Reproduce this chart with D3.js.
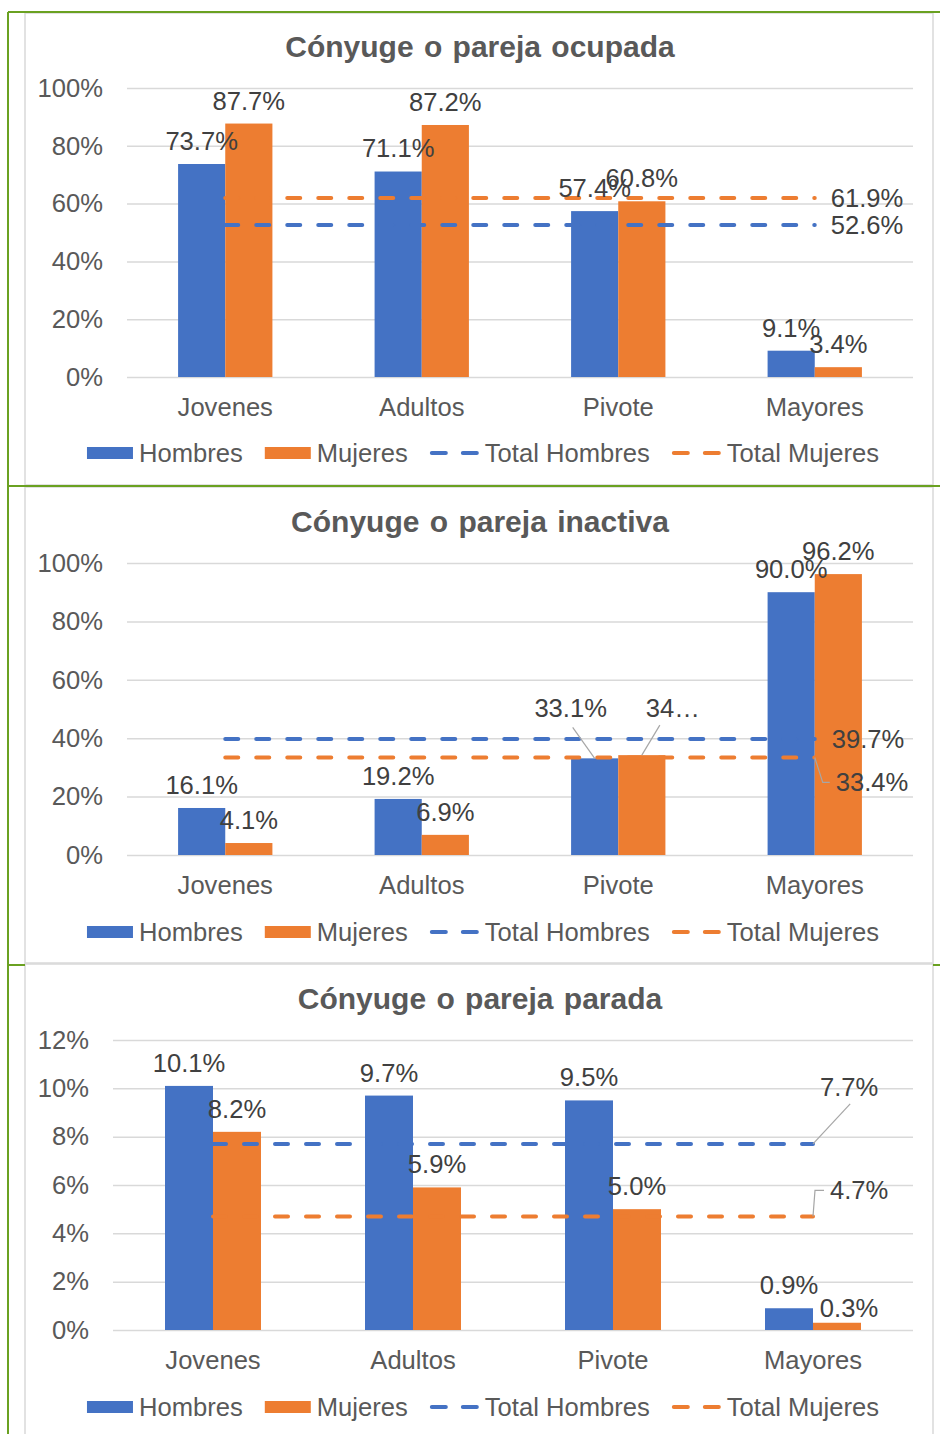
<!DOCTYPE html>
<html>
<head>
<meta charset="utf-8">
<script src="https://cdn.jsdelivr.net/npm/d3@7/dist/d3.min.js"></script>
<style>
  body { margin: 0; background: #fff; }
  svg { display: block; font-family: "Liberation Sans", Arial, sans-serif; }
</style>
</head>
<body>
<div id="chart"></div>
<script>
// categorias y series
var categorias = ["Jovenes", "Adultos", "Pivote", "Mayores"];
var series = ["Hombres", "Mujeres", "Total Hombres", "Total Mujeres"];

var ocupadaHombres = [73.7, 71.1, 57.4, 9.1];
var ocupadaMujeres = [87.7, 87.2, 60.8, 3.4];
var ocupadaTotalHombres = 52.6;
var ocupadaTotalMujeres = 61.9;

var inactivaHombres = [16.1, 19.2, 33.1, 90.0];
var inactivaMujeres = [4.1, 6.9, 34.2, 96.2];
var inactivaTotalHombres = 39.7;
var inactivaTotalMujeres = 33.4;

var paradaHombres = [10.1, 9.7, 9.5, 0.9];
var paradaMujeres = [8.2, 5.9, 5.0, 0.3];
var paradaTotalHombres = 7.7;
var paradaTotalMujeres = 4.7;

var ticks100 = [0, 20, 40, 60, 80, 100];
var ticks12 = [0, 2, 4, 6, 8, 10, 12];

var azul = "#4472C4", naranja = "#ED7D31";
var W = 940, H = 1434;
var fs = '25.6px';

var svg = d3.select('#chart').append('svg')
    .attr('width', W)
    .attr('height', H);

// marcos verdes y cajas grises
var marcos = svg.append('g');
[[13, 485], [487, 963], [964, 1440]].forEach(function(p) {
  marcos.append('rect')
    .attr('x', 25).attr('y', p[0])
    .attr('width', 908).attr('height', p[1] - p[0])
    .attr('fill', 'none')
    .attr('stroke', '#d9d9d9')
    .attr('stroke-width', 1.5);
});
var verde = '#6aa121';
[[8, 12, 8, H], [8, 12, 940, 12], [8, 486, 940, 486], [8, 965, 25, 965], [933, 965, 940, 965]]
  .forEach(function(l) {
    marcos.append('line')
      .attr('x1', l[0]).attr('y1', l[1]).attr('x2', l[2]).attr('y2', l[3])
      .attr('stroke', verde).attr('stroke-width', 2);
  });

var paneles = [
  { titulo: "Cónyuge o pareja ocupada", hombres: ocupadaHombres, mujeres: ocupadaMujeres,
    totalH: ocupadaTotalHombres, totalM: ocupadaTotalMujeres, ticks: ticks100,
    tituloY: 46, left: 127, top: 88, bottom: 377, legendY: 453,
    ajustes: {},
    totH: { dx: 16, dy: 0 }, totM: { dx: 16, dy: 0 } },
  { titulo: "Cónyuge o pareja inactiva", hombres: inactivaHombres, mujeres: inactivaMujeres,
    totalH: inactivaTotalHombres, totalM: inactivaTotalMujeres, ticks: ticks100,
    tituloY: 521, left: 127, top: 563, bottom: 855, legendY: 932,
    ajustes: {
      "H2": { dx: -24, dy: -27, guia: [2, 19] },
      "M2": { dx: 31, dy: -24, texto: "34…", guia: [-13, 17] }
    },
    totH: { dx: 17, dy: 0 }, totM: { dx: 21, dy: 25, codo: true } },
  { titulo: "Cónyuge o pareja parada", hombres: paradaHombres, mujeres: paradaMujeres,
    totalH: paradaTotalHombres, totalM: paradaTotalMujeres, ticks: ticks12,
    tituloY: 998, left: 113, top: 1040, bottom: 1330, legendY: 1407,
    ajustes: { "M3": { dx: 12, dy: 8 } },
    totH: { dx: 7, dy: -57, guiaRecta: true }, totM: { dx: 17, dy: -26, codo: true } }
];

function fmt(v) { return v.toFixed(1) + "%"; }

paneles.forEach(function(p) {
  var right = 913;
  var g = svg.append('g');

  // titulo
  g.append('text')
    .attr('x', 480).attr('y', p.tituloY)
    .attr('dy', '0.35em')
    .attr('text-anchor', 'middle')
    .style('font-size', '30px')
    .style('font-weight', 'bold')
    .style('word-spacing', '2px')
    .attr('fill', '#595959')
    .text(p.titulo);

  var x0 = d3.scaleBand()
    .domain(categorias)
    .range([p.left, right])
    .paddingInner(0.52)
    .paddingOuter(0.26);
  var x1 = d3.scaleBand()
    .domain(["Hombres", "Mujeres"])
    .range([0, x0.bandwidth()]);
  var y = d3.scaleLinear()
    .domain([0, d3.max(p.ticks)])
    .range([p.bottom, p.top]);

  // eje y con rejilla
  var ejeY = g.append('g')
    .attr('transform', 'translate(' + p.left + ',0)')
    .call(d3.axisLeft(y).tickValues(p.ticks).tickSize(-(right - p.left)).tickPadding(24)
      .tickFormat(function(d) { return d + "%"; }));
  ejeY.select('.domain').remove();
  ejeY.selectAll('line').attr('stroke', '#d9d9d9').attr('stroke-width', 1.5);
  ejeY.selectAll('text')
    .attr('fill', '#595959')
    .style('font-size', fs)
    .style('font-family', '"Liberation Sans", Arial, sans-serif');

  // eje x
  var ejeX = g.append('g')
    .attr('transform', 'translate(0,' + p.bottom + ')')
    .call(d3.axisBottom(x0).tickSize(0));
  ejeX.select('.domain').remove();
  ejeX.selectAll('text')
    .attr('y', 30).attr('dy', '0.35em')
    .attr('fill', '#595959')
    .style('font-size', fs)
    .style('font-family', '"Liberation Sans", Arial, sans-serif');

  // barras
  var filas = [];
  categorias.forEach(function(c, i) {
    filas.push({ cat: c, serie: "Hombres", v: p.hombres[i], key: "H" + i });
    filas.push({ cat: c, serie: "Mujeres", v: p.mujeres[i], key: "M" + i });
  });

  g.selectAll('.bar')
    .data(filas)
    .enter().append('rect')
      .attr('class', 'bar')
      .attr('x', function(d) { return x0(d.cat) + x1(d.serie); })
      .attr('width', x1.bandwidth())
      .attr('y', function(d) { return y(d.v); })
      .attr('height', function(d) { return p.bottom - y(d.v); })
      .attr('fill', function(d) { return d.serie == "Hombres" ? azul : naranja; });

  // lineas de total
  var cx = function(c) { return x0(c) + x0.bandwidth() / 2; };
  var linea = d3.line()
    .x(function(d) { return cx(d.cat); })
    .y(function(d) { return y(d.v); });
  [[p.totalH, azul], [p.totalM, naranja]].forEach(function(t) {
    g.append('path')
      .datum(categorias.map(function(c) { return { cat: c, v: t[0] }; }))
      .attr('d', linea)
      .attr('fill', 'none')
      .attr('stroke', t[1])
      .attr('stroke-width', 4)
      .attr('stroke-dasharray', '13 18')
      .attr('stroke-linecap', 'round');
  });

  // etiquetas de barras
  filas.forEach(function(d) {
    var aj = p.ajustes[d.key] || {};
    var bx = x0(d.cat) + x1(d.serie) + x1.bandwidth() / 2;
    var by = y(d.v);
    var lx = bx + (aj.dx || 0);
    var ly = by - 23 + (aj.dy || 0);
    if (aj.guia) {
      g.append('line')
        .attr('x1', bx).attr('y1', by)
        .attr('x2', lx + aj.guia[0]).attr('y2', ly + aj.guia[1])
        .attr('stroke', '#a6a6a6').attr('stroke-width', 1.2);
    }
    g.append('text')
      .attr('x', lx).attr('y', ly)
      .attr('dy', '0.35em')
      .attr('text-anchor', 'middle')
      .attr('fill', '#404040')
      .style('font-size', fs)
      .text(aj.texto || fmt(d.v));
  });

  // etiquetas de totales (solo ultimo punto)
  var ex = cx(categorias[categorias.length - 1]);
  [[p.totalH, p.totH], [p.totalM, p.totM]].forEach(function(t) {
    var ey = y(t[0]);
    var lx = ex + t[1].dx, ly = ey + t[1].dy;
    var tx = g.append('text')
      .attr('x', lx).attr('y', ly)
      .attr('dy', '0.35em')
      .attr('fill', '#404040')
      .style('font-size', fs)
      .text(fmt(t[0]));
    if (t[1].codo) {
      g.append('polyline')
        .attr('points', [[ex, ey], [ex + 2 + (t[1].dy > 0 ? 6 : 0), ly], [lx - 6, ly]].join(' '))
        .attr('fill', 'none')
        .attr('stroke', '#a6a6a6').attr('stroke-width', 1.2);
    }
    if (t[1].guiaRecta) {
      var w = tx.node().getComputedTextLength();
      g.append('line')
        .attr('x1', ex).attr('y1', ey)
        .attr('x2', lx + w / 2 + 1).attr('y2', ly + 17)
        .attr('stroke', '#a6a6a6').attr('stroke-width', 1.2);
    }
  });

  // leyenda
  var ley = g.append('g');
  var pos = 0;
  series.forEach(function(s, i) {
    var it = ley.append('g').attr('transform', 'translate(' + pos + ',0)');
    if (i < 2) {
      it.append('rect')
        .attr('x', 0).attr('y', -6)
        .attr('width', 46).attr('height', 12)
        .attr('fill', i == 0 ? azul : naranja);
    } else {
      it.append('line')
        .attr('x1', 2).attr('x2', 47)
        .attr('y1', 0).attr('y2', 0)
        .attr('stroke', i == 2 ? azul : naranja)
        .attr('stroke-width', 4)
        .attr('stroke-dasharray', '14 17')
        .attr('stroke-linecap', 'round');
    }
    var t = it.append('text')
      .attr('x', 52 + (i > 1 ? 3 : 0)).attr('y', 0)
      .attr('dy', '0.35em')
      .attr('fill', '#595959')
      .style('font-size', fs)
      .text(s);
    pos += 52 + (i > 1 ? 3 : 0) + t.node().getComputedTextLength() + 22;
  });
  var total = pos - 22;
  ley.attr('transform', 'translate(' + (483 - total / 2) + ',' + p.legendY + ')');
});
</script>
</body>
</html>
